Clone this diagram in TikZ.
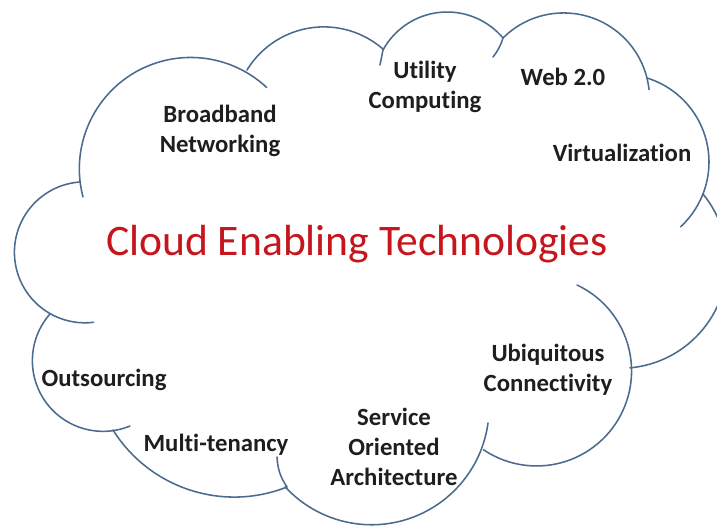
\documentclass[tikz,border=0pt]{standalone}
\usepackage{fontspec}
\setmainfont{Carlito}[Ligatures=NoCommon]
\usetikzlibrary{positioning}
\definecolor{cloudblue}{HTML}{4A6A8E}
\definecolor{titlered}{HTML}{C4161C}
\definecolor{labelgray}{HTML}{1E1E1E}

\begin{document}
\begin{tikzpicture}[x=0.025cm, y=-0.025cm,
    cloudline/.style={draw=cloudblue, line width=1.1pt, line cap=round},
    tech/.style={align=center, font=\bfseries\fontsize{17.6}{21.3}\selectfont, text=labelgray, inner sep=0pt},
    headline/.style={font=\fontsize{31}{36}\selectfont, text=titlered, inner sep=0pt}]
    \useasboundingbox (0,0) rectangle (717,526);
    \clip (0,0) rectangle (717,526);

    % junctions of the lobes
    \coordinate (jab) at (80,182);
    \coordinate (jbc) at (247,70);
    \coordinate (jcd) at (383,50);
    \coordinate (jde) at (503,38);
    \coordinate (jef) at (647,78);
    \coordinate (jfg) at (703,194);
    \coordinate (jij) at (287,487);
    \coordinate (jjk) at (113,430);

    % the cloud, one lobe at a time (clockwise from the left)
    \draw[cloudline] (jab) arc[start angle=266, end angle=83, radius=70.5];
    \draw[cloudline] (83,197) arc[start angle=165.3, end angle=313.1, radius=111.3];
    \draw[cloudline] (jbc) arc[start angle=211.4, end angle=311.5, radius=90];
    \draw[cloudline] (jcd) arc[start angle=208.7, end angle=319.9, radius=73.1];
    \draw[cloudline] (jde) arc[start angle=225.1, end angle=353.8, radius=85.9];
    \draw[cloudline] (jef) arc[start angle=287.2, end angle=407.5, radius=88];
    \draw[cloudline] (jfg) arc[start angle=320.7, end angle=444.9, radius=106.7];
    \draw[cloudline] (577,285) arc[start angle=295.2, end angle=484, radius=95];
    \draw[cloudline] (488,423) arc[start angle=7.7, end angle=137.4, radius=117.5];
    \draw[cloudline] (jij) arc[start angle=68.4, end angle=147.9, radius=143.2];
    \draw[cloudline] (130,426) arc[start angle=67.6, end angle=221.7, radius=70.7];

    % short inner ends
    \coordinate (tcd) at (380,65);
    \coordinate (tde) at (493,57);
    \coordinate (tij) at (277,457);
    \draw[cloudline] (jcd) -- (tcd);
    \draw[cloudline] (jde) to[bend left=10] (tde);
    \draw[cloudline] (jij) to[bend left=15] (tij);

    % labels
    \node[headline] (cet) at (357,244) {Cloud Enabling Technologies};
    \node[tech] (bband) at (220,131) {Broadband\\Networking};
    \node[tech] (utility) at (425,87) {Utility\\Computing};
    \node[tech] (web) at (563,77) {Web 2.0};
    \node[tech] (virt) at (622,153) {Virtualization};
    \node[tech] (ubiq) at (548,370) {Ubiquitous\\Connectivity};
    \node[tech] (soa) at (394,447) {Service\\Oriented\\Architecture};
    \node[tech] (multi) at (216,445) {Multi-tenancy};
    \node[tech] (outs) at (104,380) {Outsourcing};
\end{tikzpicture}
\end{document}
